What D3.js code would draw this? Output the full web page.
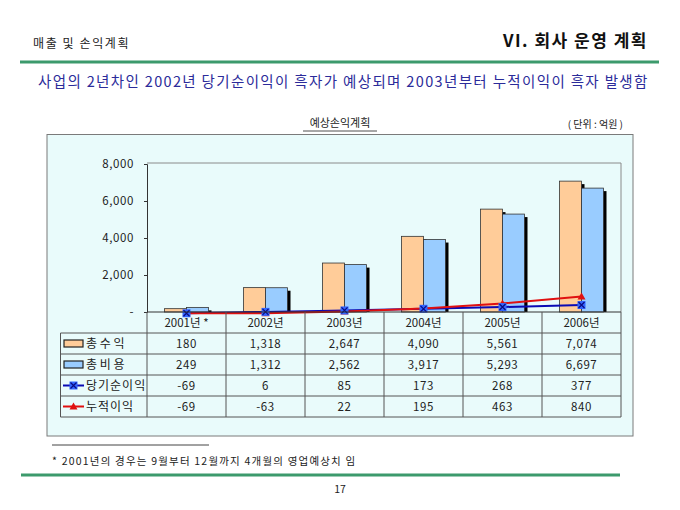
<!DOCTYPE html>
<html>
<head>
<meta charset="utf-8">
<script src="https://cdn.jsdelivr.net/npm/d3@7"></script>
<style>
  body { margin: 0; background: #fff; }
  text { font-family: "Noto Sans CJK KR", "Noto Sans", sans-serif; }
</style>
</head>
<body>
<div id="chart"></div>
<script>
// data
var categories = ["2001년 *", "2002년", "2003년", "2004년", "2005년", "2006년"]
var revenue = [180, 1318, 2647, 4090, 5561, 7074]
var cost = [249, 1312, 2562, 3917, 5293, 6697]
var netIncome = [-69, 6, 85, 173, 268, 377]
var cumIncome = [-69, -63, 22, 195, 463, 840]
var yTicks = [0, 2000, 4000, 6000, 8000]
var seriesNames = ["총 수 익", "총 비 용", "당기순이익", "누적이익"]

var W = 680, H = 510
var plot = { left: 147, right: 621, top: 163, bottom: 312 }
var rowH = 21

var fmtLocale = d3.formatLocale({ decimal: ".", thousands: ",", grouping: [3], currency: ["", ""], minus: "-" })
var fmt = fmtLocale.format(",")

var svg = d3.select("#chart").append("svg")
    .attr("width", W)
    .attr("height", H)

svg.append("rect").attr("width", W).attr("height", H).attr("fill", "#fff")

// page header
svg.append("text")
    .attr("x", 33).attr("y", 45)
    .attr("dominant-baseline", "middle")
    .attr("font-size", 12)
    .attr("letter-spacing", 1.6)
    .attr("fill", "#222")
    .text("매출 및 손익계획")

svg.append("text")
    .attr("x", 648).attr("y", 42)
    .attr("text-anchor", "end")
    .attr("dominant-baseline", "middle")
    .attr("font-size", 17)
    .attr("font-weight", "bold")
    .attr("letter-spacing", 1.5)
    .attr("fill", "#111")
    .text("VI. 회사 운영 계획")

svg.append("line")
    .attr("x1", 20).attr("x2", 659)
    .attr("y1", 62).attr("y2", 62)
    .attr("stroke", "#3c9a6c").attr("stroke-width", 3)

svg.append("text")
    .attr("x", 38).attr("y", 83)
    .attr("dominant-baseline", "middle")
    .attr("font-size", 14.5)
    .attr("letter-spacing", 1.35)
    .attr("fill", "#2b2b9a")
    .text("사업의 2년차인 2002년 당기순이익이 흑자가 예상되며 2003년부터 누적이익이 흑자 발생함")

// chart title + unit
svg.append("text")
    .attr("x", 340).attr("y", 124)
    .attr("text-anchor", "middle")
    .attr("dominant-baseline", "middle")
    .attr("font-size", 11)
    .attr("fill", "#222")
    .text("예상손익계획")
svg.append("line")
    .attr("x1", 303).attr("x2", 377)
    .attr("y1", 131).attr("y2", 131)
    .attr("stroke", "#222").attr("stroke-width", 0.8)

svg.append("text")
    .attr("x", 623).attr("y", 125)
    .attr("text-anchor", "end")
    .attr("dominant-baseline", "middle")
    .attr("font-size", 10)
    .attr("fill", "#222")
    .text("( 단위 : 억원 )")

// chart box
svg.append("rect")
    .attr("x", 47).attr("y", 134.5)
    .attr("width", 586).attr("height", 301.5)
    .attr("fill", "#e9fbfb")
    .attr("stroke", "#7a7a7a").attr("stroke-width", 1)

var x = d3.scaleBand()
    .domain(categories)
    .range([plot.left, plot.right])

var y = d3.scaleLinear()
    .domain([0, 8000])
    .range([plot.bottom, plot.top + 1])

var inner = d3.scaleBand()
    .domain(["rev", "cost"])
    .range([0, 44])

// plot frame (top + right)
svg.append("path")
    .attr("d", "M" + plot.left + "," + plot.top + "H" + plot.right + "V" + plot.bottom)
    .attr("fill", "none")
    .attr("stroke", "#8a8a8a")

var yAxis = d3.axisLeft(y)
    .tickValues(yTicks)
    .tickSize(3)
    .tickPadding(10)
    .tickFormat(function(d){ return d === 0 ? "-" : fmt(d) })

var yAxisG = svg.append("g")
    .attr("transform", "translate(" + plot.left + ",0)")
    .call(yAxis)
yAxisG.select(".domain").attr("stroke", "#333")
yAxisG.selectAll(".tick line").attr("stroke", "#333")
yAxisG.selectAll(".tick text")
    .attr("font-size", 11.5)
    .attr("letter-spacing", 0.6)
    .attr("fill", "#222")

// bars with a dark drop shadow
var barData = []
categories.forEach(function(c, i){
    barData.push({ cat: c, key: "rev", v: revenue[i], fill: "#ffcc99" })
    barData.push({ cat: c, key: "cost", v: cost[i], fill: "#99ccff" })
})
var barOffset = (x.bandwidth() - 44) / 2

var bars = svg.append("g")
barData.forEach(function(d){
    var bx = x(d.cat) + barOffset + inner(d.key)
    var by = y(d.v)
    var bh = y(0) - y(d.v)
    bars.append("rect")
        .attr("x", bx + 3).attr("y", by + 3)
        .attr("width", inner.bandwidth()).attr("height", Math.max(0, bh - 3))
        .attr("fill", "#000")
    bars.append("rect")
        .attr("x", bx).attr("y", by)
        .attr("width", inner.bandwidth()).attr("height", bh)
        .attr("fill", d.fill)
        .attr("stroke", "#333").attr("stroke-width", 0.8)
})

// lines
var cx = function(i){ return x(categories[i]) + x.bandwidth() / 2 }
var line = d3.line()
    .x(function(d, i){ return cx(i) })
    .y(function(d){ return y(d) })

svg.append("path")
    .datum(netIncome)
    .attr("d", line)
    .attr("fill", "none")
    .attr("stroke", "#0a0ab4").attr("stroke-width", 2)

svg.append("path")
    .datum(cumIncome)
    .attr("d", line)
    .attr("fill", "none")
    .attr("stroke", "#e01010").attr("stroke-width", 2)

function drawX(g, px, py){
    g.append("rect")
        .attr("x", px - 4).attr("y", py - 4)
        .attr("width", 8).attr("height", 8)
        .attr("fill", "#3366ff")
    g.append("path")
        .attr("d", "M" + (px - 3) + "," + (py - 3) + "L" + (px + 3) + "," + (py + 3) +
                   "M" + (px + 3) + "," + (py - 3) + "L" + (px - 3) + "," + (py + 3))
        .attr("stroke", "#0a0a80").attr("stroke-width", 1.2)
}
function drawTri(g, px, py){
    g.append("path")
        .attr("d", "M" + px + "," + (py - 4) + "L" + (px + 4) + "," + (py + 3) + "L" + (px - 4) + "," + (py + 3) + "Z")
        .attr("fill", "#e01010")
}

var markers = svg.append("g")
cumIncome.forEach(function(d, i){ drawTri(markers, cx(i), y(d)) })
netIncome.forEach(function(d, i){ drawX(markers, cx(i), y(d)) })

// data table
var table = svg.append("g")
var tTop = plot.bottom
var tBottom = tTop + rowH * 5
var labelLeft = 60.5

// horizontal lines
table.append("line")
    .attr("x1", plot.left).attr("x2", plot.right)
    .attr("y1", tTop).attr("y2", tTop)
    .attr("stroke", "#333").attr("stroke-width", 1.2)
d3.range(1, 6).forEach(function(r){
    table.append("line")
        .attr("x1", labelLeft).attr("x2", plot.right)
        .attr("y1", tTop + r * rowH).attr("y2", tTop + r * rowH)
        .attr("stroke", "#555")
})
// vertical lines
categories.forEach(function(c){
    table.append("line")
        .attr("x1", x(c)).attr("x2", x(c))
        .attr("y1", tTop).attr("y2", tBottom)
        .attr("stroke", "#555")
})
table.append("line")
    .attr("x1", plot.right).attr("x2", plot.right)
    .attr("y1", tTop).attr("y2", tBottom)
    .attr("stroke", "#555")
table.append("line")
    .attr("x1", labelLeft).attr("x2", labelLeft)
    .attr("y1", tTop + rowH).attr("y2", tBottom)
    .attr("stroke", "#555")

// header cells
categories.forEach(function(c){
    table.append("text")
        .attr("x", x(c) + x.bandwidth() / 2)
        .attr("y", tTop + rowH / 2 + 1)
        .attr("text-anchor", "middle")
        .attr("dominant-baseline", "middle")
        .attr("font-size", 11.5)
        .attr("fill", "#222")
        .text(c)
})

// value rows
var rows = [revenue, cost, netIncome, cumIncome]
rows.forEach(function(vals, r){
    var ry = tTop + rowH * (r + 1) + rowH / 2 + 1
    vals.forEach(function(v, i){
        table.append("text")
            .attr("x", cx(i))
            .attr("y", ry)
            .attr("text-anchor", "middle")
            .attr("dominant-baseline", "middle")
            .attr("font-size", 11.5)
            .attr("letter-spacing", 0.6)
            .attr("fill", "#222")
            .text(fmt(v))
    })

    // legend key
    var ky = ry - 1
    if (r < 2) {
        table.append("rect")
            .attr("x", 64).attr("y", ky - 3.5)
            .attr("width", 19).attr("height", 7)
            .attr("fill", r === 0 ? "#ffcc99" : "#99ccff")
            .attr("stroke", "#222").attr("stroke-width", 1.2)
    } else {
        table.append("line")
            .attr("x1", 63).attr("x2", 84)
            .attr("y1", ky).attr("y2", ky)
            .attr("stroke", r === 2 ? "#0a0ab4" : "#e01010").attr("stroke-width", 2)
        if (r === 2) drawX(table, 73.5, ky)
        else drawTri(table, 73.5, ky)
    }
    table.append("text")
        .attr("x", 86)
        .attr("y", ry)
        .attr("dominant-baseline", "middle")
        .attr("font-size", 12)
        .attr("fill", "#222")
        .attr("letter-spacing", r < 2 ? 0 : 1)
        .text(seriesNames[r])
})

// footnote
svg.append("line")
    .attr("x1", 52).attr("x2", 209)
    .attr("y1", 445).attr("y2", 445)
    .attr("stroke", "#444").attr("stroke-width", 1)
svg.append("text")
    .attr("x", 52).attr("y", 462)
    .attr("dominant-baseline", "middle")
    .attr("font-size", 10.5)
    .attr("letter-spacing", 1.2)
    .attr("fill", "#222")
    .text("* 2001년의 경우는 9월부터 12월까지 4개월의 영업예상치 임")

svg.append("line")
    .attr("x1", 21).attr("x2", 620)
    .attr("y1", 475).attr("y2", 475)
    .attr("stroke", "#3c9a6c").attr("stroke-width", 3)

svg.append("text")
    .attr("x", 340).attr("y", 490)
    .attr("text-anchor", "middle")
    .attr("dominant-baseline", "middle")
    .attr("font-size", 10.5)
    .attr("fill", "#222")
    .text("17")
</script>
</body>
</html>
